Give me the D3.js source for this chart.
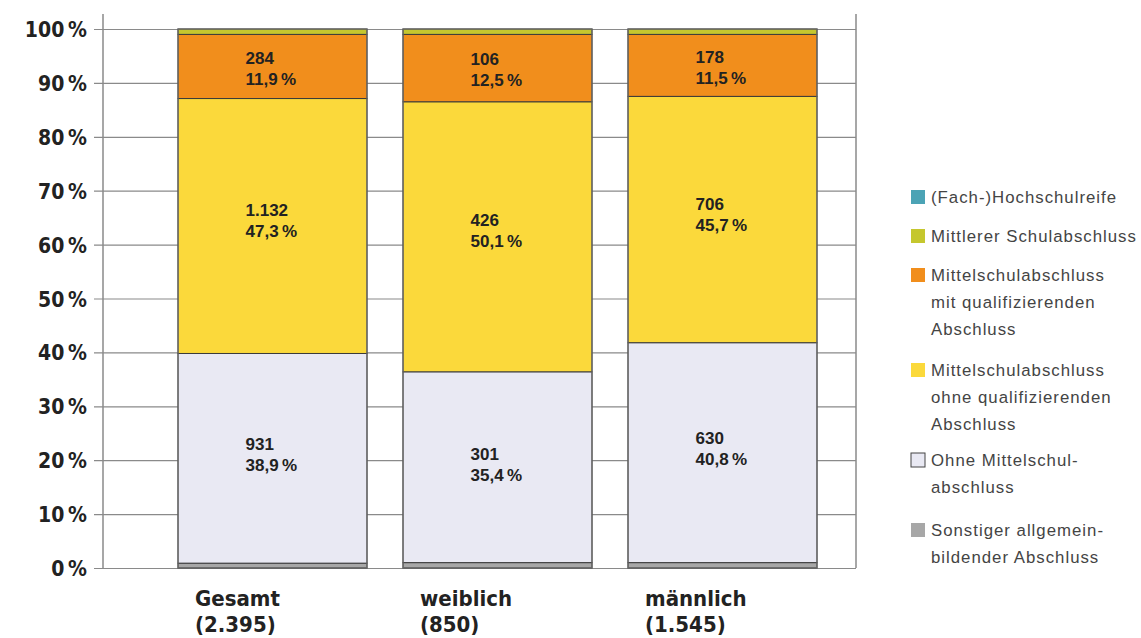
<!DOCTYPE html>
<html><head><meta charset="utf-8">
<script src="https://cdn.jsdelivr.net/npm/d3@7"></script>
<style>
html,body{margin:0;padding:0;background:#fff;}
svg{display:block;}
</style></head>
<body>
<svg id="chart" width="1141" height="638"></svg>
<script>
const categories = ["Gesamt", "weiblich", "männlich"];
const totals = ["2.395", "850", "1.545"];
const seriesNames = [
  "Sonstiger allgemein-|bildender Abschluss",
  "Ohne Mittelschul-|abschluss",
  "Mittelschulabschluss|ohne qualifizierenden|Abschluss",
  "Mittelschulabschluss|mit qualifizierenden|Abschluss",
  "Mittlerer Schulabschluss",
  "(Fach-)Hochschulreife"
];
const sonstiger = [0.9, 1.0, 1.0];
const ohneMS = [38.9, 35.4, 40.8];
const ohneQual = [47.3, 50.1, 45.7];
const mitQual = [11.9, 12.5, 11.5];
const mittlerer = [1.0, 1.0, 1.0];
const hochschul = [0, 0, 0];
const ohneMSCounts = ["931", "301", "630"];
const ohneQualCounts = ["1.132", "426", "706"];
const mitQualCounts = ["284", "106", "178"];
const yTicks = [0, 10, 20, 30, 40, 50, 60, 70, 80, 90, 100];

const seriesValues = [sonstiger, ohneMS, ohneQual, mitQual, mittlerer, hochschul];
const seriesLabels = [null, ohneMSCounts, ohneQualCounts, mitQualCounts, null, null];
const colors = ["#a7a7a7", "#e9e9f3", "#fbd93b", "#f18e1c", "#c5c72e", "#4ba3b5"];

const svg = d3.select("#chart");
const y = d3.scaleLinear().domain([0, 100]).range([568, 29]);
const x = d3.scaleBand().domain(categories).range([142, 853]).paddingInner(0.16).paddingOuter(0.16);

const condensed = "'Liberation Sans Narrow', 'DejaVu Sans Condensed', 'Arial Narrow', sans-serif";

// gridlines + axis labels
const yAxis = d3.axisLeft(y).tickValues(yTicks).tickSize(-(856 - 94)).tickPadding(7)
  .tickFormat(d => d + "\u202F%");
const gAxis = svg.append("g").attr("transform", "translate(856,0)").call(yAxis);
gAxis.select(".domain").remove();
gAxis.selectAll(".tick line").attr("stroke", "#8a8a8a").attr("stroke-width", 1.2)
  .attr("x1", 0).attr("x2", -(856 - 94));
gAxis.selectAll(".tick text").attr("x", -(856 - 87)).attr("text-anchor", "end")
  .attr("font-family", condensed).attr("font-weight", "bold").attr("font-size", 21)
  .attr("fill", "#222").attr("dy", "0.36em");

// vertical frame lines
svg.append("line").attr("x1", 103).attr("x2", 103).attr("y1", 14).attr("y2", y(0))
  .attr("stroke", "#8a8a8a").attr("stroke-width", 1.5);
svg.append("line").attr("x1", 856).attr("x2", 856).attr("y1", 14).attr("y2", y(0))
  .attr("stroke", "#8a8a8a").attr("stroke-width", 1.5);

// stacked data
const rows = categories.map((c, i) => {
  const o = {cat: c};
  seriesValues.forEach((s, k) => o["s" + k] = s[i]);
  return o;
});
const stack = d3.stack().keys(seriesValues.map((s, k) => "s" + k));
const stacked = stack(rows);

const gBars = svg.append("g");
stacked.forEach((layer, k) => {
  gBars.append("g").selectAll("rect").data(layer).join("rect")
    .attr("x", d => x(d.data.cat))
    .attr("width", x.bandwidth())
    .attr("y", d => y(d[1]))
    .attr("height", d => Math.max(0, y(d[0]) - y(d[1])))
    .attr("fill", colors[k])
    .attr("stroke", "#3a3a3a").attr("stroke-width", 1);
});
// outer bar outline
gBars.append("g").selectAll("rect").data(categories).join("rect")
  .attr("x", d => x(d)).attr("width", x.bandwidth())
  .attr("y", y(100)).attr("height", y(0) - y(100))
  .attr("fill", "none").attr("stroke", "#6a6a6a").attr("stroke-width", 1.2);

// value labels
const gLab = svg.append("g").attr("font-family", "'Liberation Sans', Arial, sans-serif")
  .attr("font-weight", "bold").attr("font-size", 17).attr("fill", "#222");
stacked.forEach((layer, k) => {
  if (!seriesLabels[k]) return;
  layer.forEach((d, i) => {
    const top = y(d[1]), h = y(d[0]) - y(d[1]);
    const lx = x(d.data.cat) + x.bandwidth() / 2 - 27;
    const b1 = top + 0.46 * h;
    const t = gLab.append("text").attr("x", lx).attr("y", b1);
    t.append("tspan").attr("x", lx).text(seriesLabels[k][i]);
    t.append("tspan").attr("x", lx).attr("dy", 21)
      .text(d3.format(".1f")(seriesValues[k][i]).replace(".", ",") + "\u202F%");
  });
});

// category labels
const gCat = svg.append("g").attr("font-family", condensed).attr("font-weight", "bold")
  .attr("font-size", 22).attr("fill", "#222");
categories.forEach((c, i) => {
  const lx = x(c) + 17;
  const t = gCat.append("text").attr("x", lx).attr("y", 606);
  t.append("tspan").attr("x", lx).text(c);
  t.append("tspan").attr("x", lx).attr("dy", 26).text("(" + totals[i] + ")");
});

// legend
const legendOrder = seriesNames.map((n, k) => k).reverse();
const legendTop = [190, 229, 268, 363, 453, 523];
const gLeg = svg.append("g").attr("font-family", "'Liberation Sans', Arial, sans-serif")
  .attr("font-size", 16.8).attr("letter-spacing", 1).attr("fill", "#444");
legendOrder.forEach((k, j) => {
  const ty = legendTop[j];
  gLeg.append("rect").attr("x", 911).attr("y", ty).attr("width", 14).attr("height", 14)
    .attr("fill", colors[k]).attr("stroke", k === 1 ? "#444" : "none").attr("stroke-width", 1);
  const lines = seriesNames[k].split("|");
  const t = gLeg.append("text").attr("x", 931).attr("y", ty + 13);
  lines.forEach((ln, m) => t.append("tspan").attr("x", 931).attr("dy", m === 0 ? 0 : 27).text(ln));
});
</script>
</body></html>
